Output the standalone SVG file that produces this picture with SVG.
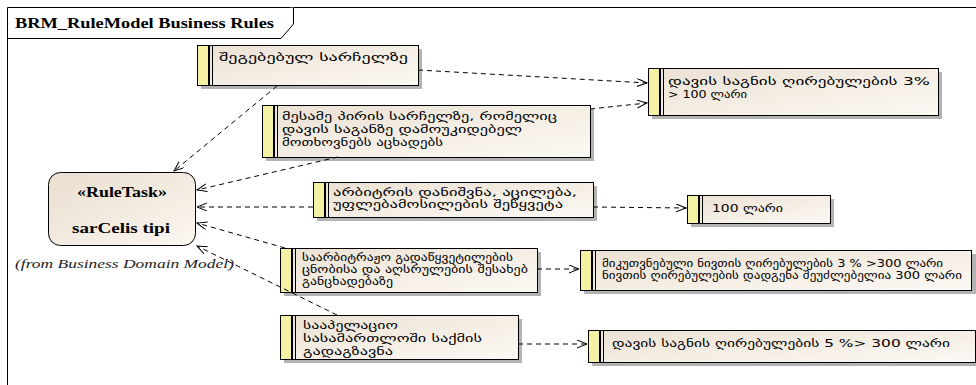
<svg xmlns="http://www.w3.org/2000/svg" width="976" height="385" viewBox="0 0 976 385">
<defs>
<linearGradient id="g" x1="0" y1="0" x2="1" y2="1">
<stop offset="0" stop-color="#ebe1d3"/>
<stop offset="1" stop-color="#fcf9f4"/>
</linearGradient>
<linearGradient id="gr" x1="0" y1="0" x2="1" y2="1">
<stop offset="0" stop-color="#e9decf"/>
<stop offset="1" stop-color="#fbf7f1"/>
</linearGradient>
<marker id="arr" markerUnits="userSpaceOnUse" markerWidth="12" markerHeight="10" refX="10" refY="4" orient="auto">
<path d="M0,0 L10,4 L0,8" fill="none" stroke="#000" stroke-width="1"/>
</marker>
</defs>
<style>
.sh{fill:#b3b3b3}
.bx{fill:url(#g);stroke:#000;stroke-width:1}
.st{fill:#f4f0a4}
.d1{stroke:#000;stroke-width:2}
.d2{stroke:#000;stroke-width:1}
.ka{font-family:"DejaVu Sans","Noto Sans",sans-serif;font-size:10px;fill:#000}
.c{fill:none;stroke:#000;stroke-width:1;stroke-dasharray:5,4;marker-end:url(#arr)}
.ttl{font-family:"Liberation Serif",serif;font-weight:bold;font-size:15px}
.rt{font-family:"Liberation Serif",serif;font-weight:bold;font-size:15px}
.fr{font-family:"Liberation Serif",serif;font-style:italic;font-size:13px;fill:#222}
</style>
<rect x="0" y="0" width="976" height="385" fill="#fff"/>
<g id="frame">
<path d="M7.5,385 V7.5 H976" fill="none" stroke="#000"/>
<path d="M7.5,38.5 H281 L293.5,24 V7.5" fill="#fff" stroke="#000"/>
<text class="ttl" x="15" y="28" textLength="259" lengthAdjust="spacingAndGlyphs">BRM_RuleModel Business Rules</text>
</g>
<g id="ruletask">
<rect x="48.5" y="172.5" width="147" height="73" rx="12" fill="url(#gr)" stroke="#000"/>
<text class="rt" x="77" y="197" textLength="90" lengthAdjust="spacingAndGlyphs">«RuleTask»</text>
<text class="rt" x="72" y="233" textLength="98" lengthAdjust="spacingAndGlyphs">sarCelis tipi</text>
<text class="fr" x="15" y="268" textLength="219" lengthAdjust="spacingAndGlyphs">(from Business Domain Model)</text>
</g>
<g id="nodeA">
<rect class="sh" x="201" y="49" width="221" height="40"/>
<rect class="bx" x="197.5" y="45.5" width="221" height="40"/>
<rect class="st" x="198" y="46" width="10" height="39"/>
<line class="d1" x1="209" y1="46" x2="209" y2="85"/>
<line class="d2" x1="212.5" y1="46" x2="212.5" y2="85"/>
<text class="ka" x="219" y="61" textLength="189" lengthAdjust="spacingAndGlyphs">შეგებებულ სარჩელზე</text>
</g>
<g id="nodeB">
<rect class="sh" x="652" y="72" width="290" height="47"/>
<rect class="bx" x="648.5" y="68.5" width="290" height="47"/>
<rect class="st" x="649" y="69" width="10" height="46"/>
<line class="d1" x1="660" y1="69" x2="660" y2="115"/>
<line class="d2" x1="663.5" y1="69" x2="663.5" y2="115"/>
<text class="ka" x="668" y="85" textLength="262" lengthAdjust="spacingAndGlyphs">დავის საგნის ღირებულების 3%</text>
<text class="ka" x="668" y="98" textLength="79" lengthAdjust="spacingAndGlyphs">&gt; 100 ლარი</text>
</g>
<g id="nodeC">
<rect class="sh" x="266" y="109" width="328" height="52"/>
<rect class="bx" x="262.5" y="105.5" width="328" height="52"/>
<rect class="st" x="263" y="106" width="10" height="51"/>
<line class="d1" x1="274" y1="106" x2="274" y2="157"/>
<line class="d2" x1="277.5" y1="106" x2="277.5" y2="157"/>
<text class="ka" x="282" y="120" textLength="275" lengthAdjust="spacingAndGlyphs">მესამე პირის სარჩელზე, რომელიც</text>
<text class="ka" x="282" y="133" textLength="240" lengthAdjust="spacingAndGlyphs">დავის საგანზე დამოუკიდებელ</text>
<text class="ka" x="282" y="146" textLength="161" lengthAdjust="spacingAndGlyphs">მოთხოვნებს აცხადებს</text>
</g>
<g id="nodeD">
<rect class="sh" x="317" y="186" width="280" height="35"/>
<rect class="bx" x="313.5" y="182.5" width="280" height="35"/>
<rect class="st" x="314" y="183" width="10" height="34"/>
<line class="d1" x1="325" y1="183" x2="325" y2="217"/>
<line class="d2" x1="328.5" y1="183" x2="328.5" y2="217"/>
<text class="ka" x="333" y="196" textLength="244" lengthAdjust="spacingAndGlyphs">არბიტრის დანიშვნა, აცილება,</text>
<text class="ka" x="333" y="208" textLength="230" lengthAdjust="spacingAndGlyphs">უფლებამოსილების შეწყვეტა</text>
</g>
<g id="nodeE">
<rect class="sh" x="691" y="199" width="143" height="28"/>
<rect class="bx" x="687.5" y="195.5" width="143" height="28"/>
<rect class="st" x="688" y="196" width="10" height="27"/>
<line class="d1" x1="699" y1="196" x2="699" y2="223"/>
<line class="d2" x1="702.5" y1="196" x2="702.5" y2="223"/>
<text class="ka" x="712" y="212" textLength="71" lengthAdjust="spacingAndGlyphs">100 ლარი</text>
</g>
<g id="nodeF">
<rect class="sh" x="284" y="252" width="257" height="44"/>
<rect class="bx" x="280.5" y="248.5" width="257" height="44"/>
<rect class="st" x="281" y="249" width="10" height="43"/>
<line class="d1" x1="292" y1="249" x2="292" y2="292"/>
<line class="d2" x1="295.5" y1="249" x2="295.5" y2="292"/>
<text class="ka" x="302" y="261" textLength="211" lengthAdjust="spacingAndGlyphs">საარბიტრაჟო გადაწყვეტილების</text>
<text class="ka" x="302" y="273" textLength="226" lengthAdjust="spacingAndGlyphs">ცნობისა და აღსრულების შესახებ</text>
<text class="ka" x="302" y="285" textLength="91" lengthAdjust="spacingAndGlyphs">განცხადებაზე</text>
</g>
<g id="nodeG">
<rect class="sh" x="584" y="254" width="392" height="40"/>
<rect class="bx" x="580.5" y="250.5" width="391" height="40"/>
<rect class="st" x="581" y="251" width="10" height="39"/>
<line class="d1" x1="592" y1="251" x2="592" y2="290"/>
<line class="d2" x1="595.5" y1="251" x2="595.5" y2="290"/>
<text class="ka" x="602" y="267" textLength="341" lengthAdjust="spacingAndGlyphs">მიკუთვნებული ნივთის ღირებულების 3 % &gt;300 ლარი</text>
<text class="ka" x="602" y="279" textLength="360" lengthAdjust="spacingAndGlyphs">ნივთის ღირებულების დადგენა შეუძლებელია 300 ლარი</text>
</g>
<g id="nodeH">
<rect class="sh" x="284" y="319" width="238" height="44"/>
<rect class="bx" x="280.5" y="315.5" width="238" height="44"/>
<rect class="st" x="281" y="316" width="10" height="43"/>
<line class="d1" x1="292" y1="316" x2="292" y2="359"/>
<line class="d2" x1="295.5" y1="316" x2="295.5" y2="359"/>
<text class="ka" x="303" y="329" textLength="95" lengthAdjust="spacingAndGlyphs">სააპელაციო</text>
<text class="ka" x="303" y="342" textLength="179" lengthAdjust="spacingAndGlyphs">სასამართლოში საქმის</text>
<text class="ka" x="303" y="355" textLength="90" lengthAdjust="spacingAndGlyphs">გადაგზავნა</text>
</g>
<g id="nodeI">
<rect class="sh" x="592" y="334" width="384" height="32"/>
<rect class="bx" x="588.5" y="330.5" width="387" height="32"/>
<rect class="st" x="589" y="331" width="10" height="31"/>
<line class="d1" x1="600" y1="331" x2="600" y2="362"/>
<line class="d2" x1="603.5" y1="331" x2="603.5" y2="362"/>
<text class="ka" x="612" y="347" textLength="338" lengthAdjust="spacingAndGlyphs">დავის საგნის ღირებულების 5 %&gt; 300 ლარი</text>
</g>
<g id="connectors">
<path class="c" d="M418,70 L647,83"/>
<path class="c" d="M590,109 L647,103"/>
<path class="c" d="M277,86 L174,171"/>
<path class="c" d="M338,157 L197,190"/>
<path class="c" d="M313,207 L197,207"/>
<path class="c" d="M593,207 L686,208"/>
<path class="c" d="M285,248 L197,223"/>
<path class="c" d="M537,269 L579,269"/>
<path class="c" d="M337,315 L197,246"/>
<path class="c" d="M518,344 L587,344"/>
</g>
</svg>
